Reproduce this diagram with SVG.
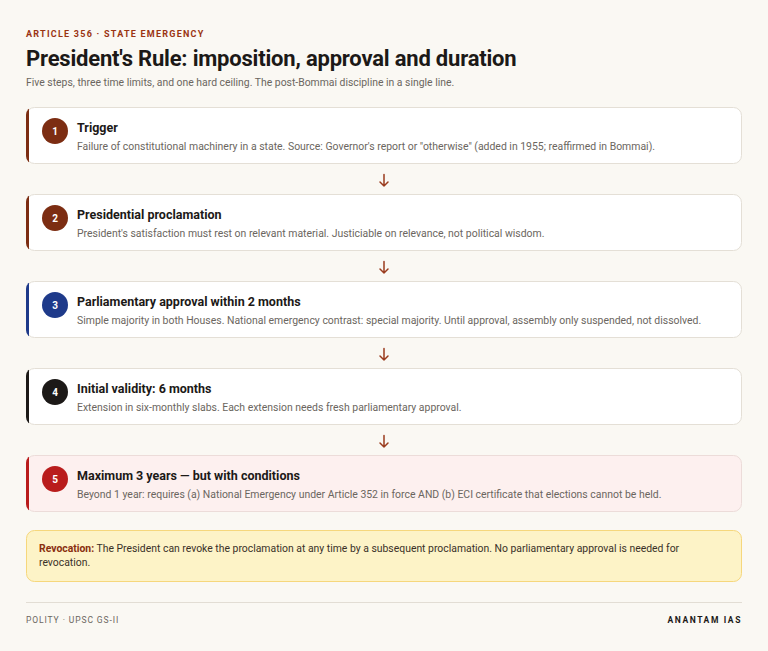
<svg xmlns="http://www.w3.org/2000/svg" width="768" height="651" viewBox="0 0 768 651">
<style>
text{font-family:Roboto,"Noto Sans","Liberation Sans",sans-serif}
.eyebrow{font-size:9px;font-weight:700;letter-spacing:1.25px;fill:#9a3412}
.h1{font-size:22px;font-weight:700;fill:#1c1917;letter-spacing:-0.2px}
.sub{font-size:10.4px;fill:#6b6660}
.card{fill:#ffffff;stroke:#e4dfd6;stroke-width:1}
.card5{fill:#fdf0ef;stroke:#ecdcd9;stroke-width:1}
.ttl{font-size:12.5px;font-weight:700;fill:#1c1917}
.desc{font-size:10.45px;fill:#6b6660}
.num{font-size:10px;font-weight:700;fill:#ffffff;text-anchor:middle}
.arr{fill:none;stroke:#9a3b1e;stroke-width:1.5;stroke-linecap:round;stroke-linejoin:round}
.rev{font-size:10.4px;fill:#3a3128}
.foot{font-size:8.5px;letter-spacing:0.9px;fill:#6b6660}
.brand{font-size:8.5px;font-weight:700;letter-spacing:1.6px;fill:#1c1917;text-anchor:end}
</style>
<defs>
<clipPath id="cardclip"><rect x="0" y="0" width="716" height="57" rx="8"/></clipPath>
</defs>
<rect width="768" height="651" fill="#faf8f3"/>
<g id="header">
<text class="eyebrow" x="26" y="37">ARTICLE 356 · STATE EMERGENCY</text>
<text class="h1" x="26" y="66">President's Rule: imposition, approval and duration</text>
<text class="sub" x="26" y="86">Five steps, three time limits, and one hard ceiling. The post-Bommai discipline in a single line.</text>
</g>
<g id="step1" transform="translate(26,107)">
<rect class="card" x="0.5" y="0.5" width="715" height="56" rx="8"/>
<rect x="0" y="0" width="3" height="57" fill="#7c2d12" clip-path="url(#cardclip)"/>
<circle cx="29" cy="24" r="13" fill="#7c2d12"/>
<text class="num" x="29" y="27.5">1</text>
<text class="ttl" x="51" y="25">Trigger</text>
<text class="desc" x="51" y="43">Failure of constitutional machinery in a state. Source: Governor's report or "otherwise" (added in 1955; reaffirmed in Bommai).</text>
</g>
<g id="step2" transform="translate(26,194)">
<rect class="card" x="0.5" y="0.5" width="715" height="56" rx="8"/>
<rect x="0" y="0" width="3" height="57" fill="#7c2d12" clip-path="url(#cardclip)"/>
<circle cx="29" cy="24" r="13" fill="#7c2d12"/>
<text class="num" x="29" y="27.5">2</text>
<text class="ttl" x="51" y="25">Presidential proclamation</text>
<text class="desc" x="51" y="43">President's satisfaction must rest on relevant material. Justiciable on relevance, not political wisdom.</text>
</g>
<g id="step3" transform="translate(26,281)">
<rect class="card" x="0.5" y="0.5" width="715" height="56" rx="8"/>
<rect x="0" y="0" width="3" height="57" fill="#1e3a8a" clip-path="url(#cardclip)"/>
<circle cx="29" cy="24" r="13" fill="#1e3a8a"/>
<text class="num" x="29" y="27.5">3</text>
<text class="ttl" x="51" y="25">Parliamentary approval within 2 months</text>
<text class="desc" x="51" y="43">Simple majority in both Houses. National emergency contrast: special majority. Until approval, assembly only suspended, not dissolved.</text>
</g>
<g id="step4" transform="translate(26,368)">
<rect class="card" x="0.5" y="0.5" width="715" height="56" rx="8"/>
<rect x="0" y="0" width="3" height="57" fill="#1c1917" clip-path="url(#cardclip)"/>
<circle cx="29" cy="24" r="13" fill="#1c1917"/>
<text class="num" x="29" y="27.5">4</text>
<text class="ttl" x="51" y="25">Initial validity: 6 months</text>
<text class="desc" x="51" y="43">Extension in six-monthly slabs. Each extension needs fresh parliamentary approval.</text>
</g>
<g id="step5" transform="translate(26,455)">
<rect class="card5" x="0.5" y="0.5" width="715" height="56" rx="8"/>
<rect x="0" y="0" width="3" height="57" fill="#b91c1c" clip-path="url(#cardclip)"/>
<circle cx="29" cy="24" r="13" fill="#b91c1c"/>
<text class="num" x="29" y="27.5">5</text>
<text class="ttl" x="51" y="25">Maximum 3 years — but with conditions</text>
<text class="desc" x="51" y="43">Beyond 1 year: requires (a) National Emergency under Article 352 in force AND (b) ECI certificate that elections cannot be held.</text>
</g>
<g id="connectors">
<path class="arr" d="M384 174.5 V186 M380 182 L384 186 L388 182"/>
<path class="arr" d="M384 261.5 V273 M380 269 L384 273 L388 269"/>
<path class="arr" d="M384 348.5 V360 M380 356 L384 360 L388 356"/>
<path class="arr" d="M384 435.5 V447 M380 443 L384 447 L388 443"/>
</g>
<g id="revocation">
<rect x="26.5" y="530.5" width="715" height="51" rx="8" fill="#fdf3c7" stroke="#f6d77c" stroke-width="1"/>
<text class="rev" x="39" y="552"><tspan font-weight="700" fill="#8a2f10">Revocation:</tspan> The President can revoke the proclamation at any time by a subsequent proclamation. No parliamentary approval is needed for</text>
<text class="rev" x="39" y="566">revocation.</text>
</g>
<g id="footer">
<line x1="26" y1="602.5" x2="742" y2="602.5" stroke="#e2ddd4" stroke-width="1"/>
<text class="foot" x="26" y="623">POLITY · UPSC GS-II</text>
<text class="brand" x="742" y="623">ANANTAM IAS</text>
</g>
</svg>
